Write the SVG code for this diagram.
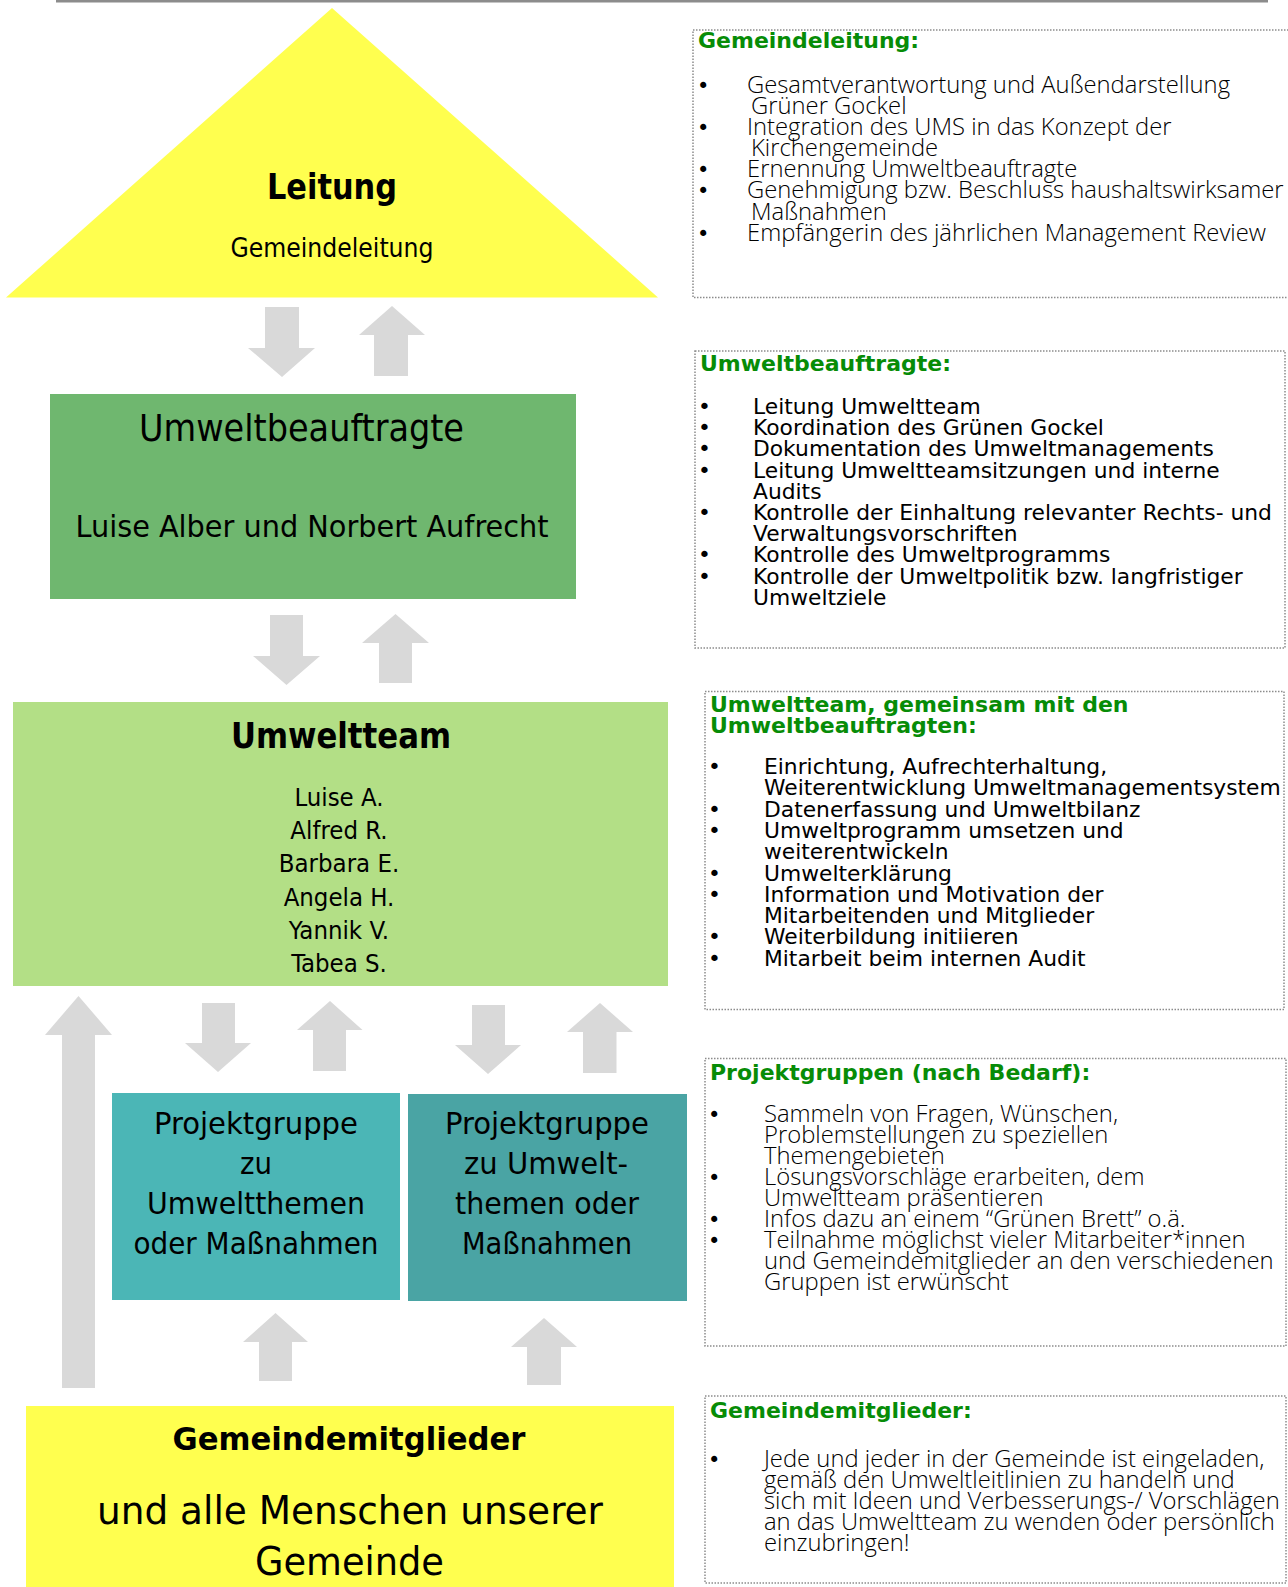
<svg xmlns="http://www.w3.org/2000/svg" width="1288" height="1587" viewBox="0 0 1288 1587">
<style>
.lbl{font-family:"DejaVu Sans Condensed","DejaVu Sans",sans-serif;fill:#000;text-anchor:middle}
.b{font-weight:bold}
.arrow{fill:#d9d9d9}
.box{fill:none;stroke:#8c8c8c;stroke-width:1.5;stroke-dasharray:1.5 1.5}
.ttl{font-family:"DejaVu Sans",sans-serif;font-weight:bold;font-size:22px;fill:#078c07}
.ls{font-family:"Open Sans","Liberation Sans",sans-serif;font-weight:300;font-size:23.8px;fill:#000}
.ld{font-family:"DejaVu Sans",sans-serif;font-size:21.8px;fill:#000}
.bul{font-family:"DejaVu Sans",sans-serif;font-size:21px;fill:#000}
</style>
<rect x="56" y="0" width="1212" height="2.5" fill="#8c8c8c"/>

<g id="connectors">
<polygon class="arrow" points="265,307 299,307 299,348 315,348 282,377 248,348 265,348"/>
<polygon class="arrow" points="392,306 425,335 408,335 408,376 374,376 374,335 359,335"/>
<polygon class="arrow" points="270,615 303,615 303,656 320,656 286.5,685 253,656 270,656"/>
<polygon class="arrow" points="395.5,614 429,643 412,643 412,683 379,683 379,643 362,643"/>
<polygon class="arrow" points="202,1003 235,1003 235,1043 251,1043 218,1072 185,1043 202,1043"/>
<polygon class="arrow" points="330,1001 362.5,1030 346,1030 346,1071 313,1071 313,1030 297,1030"/>
<polygon class="arrow" points="472,1005 505,1005 505,1045 521,1045 488,1074 455,1045 472,1045"/>
<polygon class="arrow" points="600,1003 633,1032 616.5,1032 616.5,1073 583,1073 583,1032 567,1032"/>
<polygon class="arrow" points="78.5,996 112,1035 95,1035 95,1388 62,1388 62,1035 45,1035"/>
<polygon class="arrow" points="275.5,1313 308,1342 292,1342 292,1381 259,1381 259,1342 243,1342"/>
<polygon class="arrow" points="544,1318 577,1347 561,1347 561,1385 527,1385 527,1347 511,1347"/>
</g>

<g id="leitung">
<polygon points="332,8 658,297.5 6,297.5" fill="#ffff4f"/>
<text class="lbl b" x="332" y="199" font-size="35" textLength="130" lengthAdjust="spacingAndGlyphs">Leitung</text>
<text class="lbl" x="332" y="257" font-size="26" textLength="203" lengthAdjust="spacingAndGlyphs">Gemeindeleitung</text>
</g>

<g id="umweltbeauftragte">
<rect x="50" y="394" width="526" height="205" fill="#6fb76f"/>
<text class="lbl" x="301.5" y="440.5" font-size="37.5" textLength="325" lengthAdjust="spacingAndGlyphs">Umweltbeauftragte</text>
<text class="lbl" x="312" y="537" font-size="30" textLength="473" lengthAdjust="spacingAndGlyphs">Luise Alber und Norbert Aufrecht</text>
</g>

<g id="umweltteam">
<rect x="13" y="702" width="655" height="284" fill="#b3df86"/>
<text class="lbl b" x="341" y="748" font-size="35" textLength="220" lengthAdjust="spacingAndGlyphs">Umweltteam</text>
<g class="lbl" font-size="25.5">
<text x="339" y="805.5">Luise A.</text>
<text x="339" y="839">Alfred R.</text>
<text x="339" y="872.3">Barbara E.</text>
<text x="339" y="905.5">Angela H.</text>
<text x="339" y="939">Yannik V.</text>
<text x="339" y="972.3">Tabea S.</text>
</g>
</g>

<g id="projektgruppe1">
<rect x="112" y="1093" width="288" height="207" fill="#4bb6b6"/>
<g class="lbl" font-size="31">
<text x="256" y="1134" textLength="204" lengthAdjust="spacingAndGlyphs">Projektgruppe</text>
<text x="256" y="1173.5" textLength="32" lengthAdjust="spacingAndGlyphs">zu</text>
<text x="256" y="1213.5" textLength="218" lengthAdjust="spacingAndGlyphs">Umweltthemen</text>
<text x="256" y="1253.5" textLength="245" lengthAdjust="spacingAndGlyphs">oder Maßnahmen</text>
</g>
</g>

<g id="projektgruppe2">
<rect x="408" y="1094" width="279" height="207" fill="#4aa4a4"/>
<g class="lbl" font-size="31">
<text x="547" y="1134" textLength="204" lengthAdjust="spacingAndGlyphs">Projektgruppe</text>
<text x="546" y="1173.5" textLength="164" lengthAdjust="spacingAndGlyphs">zu Umwelt-</text>
<text x="547" y="1213.5" textLength="184" lengthAdjust="spacingAndGlyphs">themen oder</text>
<text x="547" y="1253.5" textLength="170" lengthAdjust="spacingAndGlyphs">Maßnahmen</text>
</g>
</g>

<g id="gemeindemitglieder">
<rect x="26" y="1406" width="648" height="181" fill="#ffff4f"/>
<text class="lbl b" x="349" y="1450" font-size="32" textLength="353" lengthAdjust="spacingAndGlyphs">Gemeindemitglieder</text>
<text class="lbl" x="350" y="1524" font-size="39" textLength="506" lengthAdjust="spacingAndGlyphs">und alle Menschen unserer</text>
<text class="lbl" x="349.5" y="1575" font-size="39" textLength="189" lengthAdjust="spacingAndGlyphs">Gemeinde</text>
</g>

<g id="info-gemeindeleitung">
<rect class="box" x="693" y="30" width="610" height="267.5"/>
<text class="ttl" x="698" y="48">Gemeindeleitung:</text>
<g class="bul">
<text x="697" y="92.7">•</text><text x="697" y="135">•</text><text x="697" y="177">•</text><text x="697" y="198">•</text><text x="697" y="241">•</text>
</g>
<g class="ls">
<text x="747" y="92.7">Gesamtverantwortung und Außendarstellung</text>
<text x="751" y="113.8">Grüner Gockel</text>
<text x="747" y="135">Integration des UMS in das Konzept der</text>
<text x="751" y="156.3">Kirchengemeinde</text>
<text x="747" y="177">Ernennung Umweltbeauftragte</text>
<text x="747" y="198">Genehmigung bzw. Beschluss haushaltswirksamer</text>
<text x="751" y="219.5">Maßnahmen</text>
<text x="747" y="241">Empfängerin des jährlichen Management Review</text>
</g>
</g>

<g id="info-umweltbeauftragte">
<rect class="box" x="695" y="351" width="590" height="297"/>
<text class="ttl" x="700" y="370.5">Umweltbeauftragte:</text>
<g class="ld">
<text x="698" y="414">•</text><text x="753" y="414">Leitung Umweltteam</text>
<text x="698" y="435.2">•</text><text x="753" y="435.2">Koordination des Grünen Gockel</text>
<text x="698" y="456.4">•</text><text x="753" y="456.4">Dokumentation des Umweltmanagements</text>
<text x="698" y="477.6">•</text><text x="753" y="477.6">Leitung Umweltteamsitzungen und interne</text>
<text x="753" y="498.8">Audits</text>
<text x="698" y="520">•</text><text x="753" y="520">Kontrolle der Einhaltung relevanter Rechts- und</text>
<text x="753" y="541.2">Verwaltungsvorschriften</text>
<text x="698" y="562.4">•</text><text x="753" y="562.4">Kontrolle des Umweltprogramms</text>
<text x="698" y="583.6">•</text><text x="753" y="583.6">Kontrolle der Umweltpolitik bzw. langfristiger</text>
<text x="753" y="604.8">Umweltziele</text>
</g>
</g>

<g id="info-umweltteam">
<rect class="box" x="705" y="691.5" width="579" height="318"/>
<text class="ttl" x="710" y="711.7">Umweltteam, gemeinsam mit den</text>
<text class="ttl" x="710" y="732.5">Umweltbeauftragten:</text>
<g class="ld">
<text x="708" y="774">•</text><text x="764" y="774">Einrichtung, Aufrechterhaltung,</text>
<text x="764" y="795.3">Weiterentwicklung Umweltmanagementsystem</text>
<text x="708" y="816.6">•</text><text x="764" y="816.6">Datenerfassung und Umweltbilanz</text>
<text x="708" y="837.9">•</text><text x="764" y="837.9">Umweltprogramm umsetzen und</text>
<text x="764" y="859.2">weiterentwickeln</text>
<text x="708" y="880.5">•</text><text x="764" y="880.5">Umwelterklärung</text>
<text x="708" y="901.8">•</text><text x="764" y="901.8">Information und Motivation der</text>
<text x="764" y="923.1">Mitarbeitenden und Mitglieder</text>
<text x="708" y="944.4">•</text><text x="764" y="944.4">Weiterbildung initiieren</text>
<text x="708" y="965.7">•</text><text x="764" y="965.7">Mitarbeit beim internen Audit</text>
</g>
</g>

<g id="info-projektgruppen">
<rect class="box" x="705" y="1058.5" width="581" height="287.5"/>
<text class="ttl" x="710" y="1080">Projektgruppen (nach Bedarf):</text>
<g class="bul">
<text x="708" y="1121.7">•</text><text x="708" y="1184.8">•</text><text x="708" y="1226.8">•</text><text x="708" y="1247.9">•</text>
</g>
<g class="ls">
<text x="764" y="1121.7">Sammeln von Fragen, Wünschen,</text>
<text x="764" y="1142.7">Problemstellungen zu speziellen</text>
<text x="764" y="1163.7">Themengebieten</text>
<text x="764" y="1184.8">Lösungsvorschläge erarbeiten, dem</text>
<text x="764" y="1205.8">Umweltteam präsentieren</text>
<text x="764" y="1226.8">Infos dazu an einem “Grünen Brett” o.ä.</text>
<text x="764" y="1247.9">Teilnahme möglichst vieler Mitarbeiter*innen</text>
<text x="764" y="1268.9">und Gemeindemitglieder an den verschiedenen</text>
<text x="764" y="1289.9">Gruppen ist erwünscht</text>
</g>
</g>

<g id="info-gemeindemitglieder">
<rect class="box" x="705" y="1396" width="581" height="187"/>
<text class="ttl" x="710" y="1418">Gemeindemitglieder:</text>
<text class="bul" x="708" y="1467">•</text>
<g class="ls">
<text x="764" y="1467">Jede und jeder in der Gemeinde ist eingeladen,</text>
<text x="764" y="1488">gemäß den Umweltleitlinien zu handeln und</text>
<text x="764" y="1509">sich mit Ideen und Verbesserungs-/ Vorschlägen</text>
<text x="764" y="1530">an das Umweltteam zu wenden oder persönlich</text>
<text x="764" y="1550.5">einzubringen!</text>
</g>
</g>
</svg>
